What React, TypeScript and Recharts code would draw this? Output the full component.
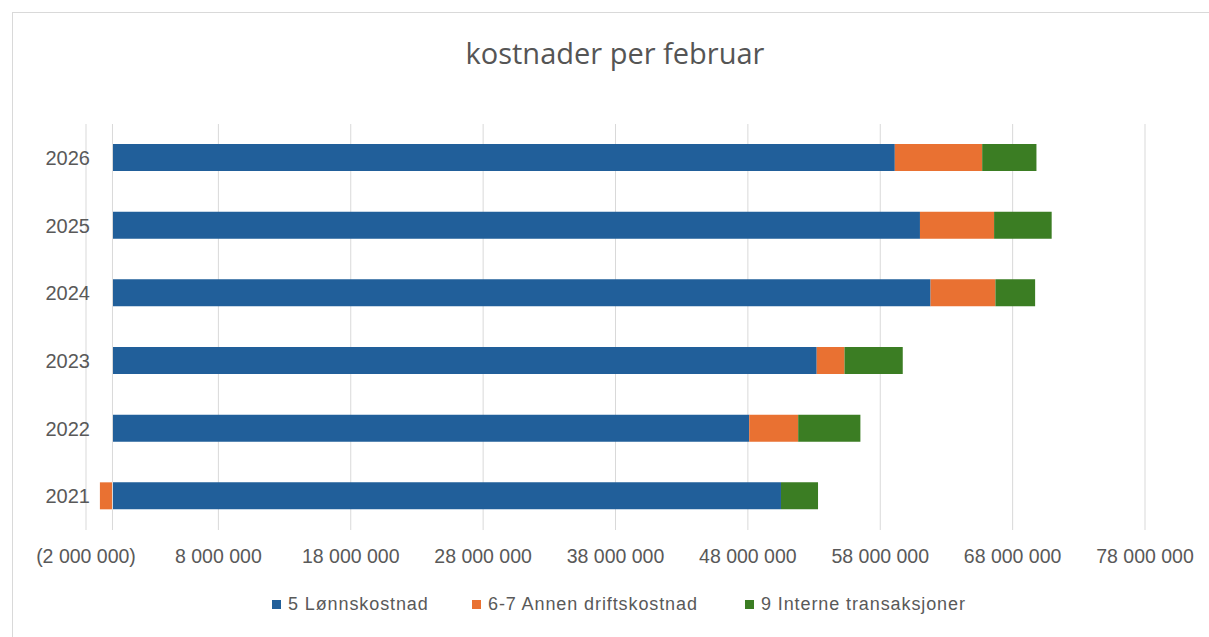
import { BarChart, Bar, XAxis, YAxis, CartesianGrid, ReferenceLine } from "recharts";

const years = ["2021", "2022", "2023", "2024", "2025", "2026"];
const lonn = [50.5, 48.1, 53.2, 61.8, 61.0, 59.1];
const annen = [-0.95, 3.7, 2.1, 4.9, 5.6, 6.6];
const interne = [2.8, 4.7, 4.4, 3.0, 4.35, 4.1];
const xTicks = [-2, 8, 18, 28, 38, 48, 58, 68, 78];

const series = [
  { key: "lonn", name: "5 Lønnskostnad", color: "#215F9A" },
  { key: "annen", name: "6-7 Annen driftskostnad", color: "#E97132" },
  { key: "interne", name: "9 Interne transaksjoner", color: "#3B7D23" },
];

const data = years.map((year, i) => ({
  year,
  lonn: lonn[i] * 1e6,
  annen: annen[i] * 1e6,
  interne: interne[i] * 1e6,
}));

const FONT = "'Liberation Sans', Arial, sans-serif";
const TEXT = "#595959";

const fmt = (v: number) => {
  const s = Math.abs(v).toString().replace(/\B(?=(\d{3})+(?!\d))/g, " ");
  return v < 0 ? `(${s})` : s;
};

const XTick = (props: any) => {
  const { x, payload } = props;
  return (
    <text x={x} y={563} textAnchor="middle" fill={TEXT} fontSize={19.5} fontFamily={FONT}>
      {fmt(payload.value)}
    </text>
  );
};

const YTick = (props: any) => {
  const { y, payload } = props;
  return (
    <text x={90} y={y} dy={7} textAnchor="end" fill={TEXT} fontSize={20} fontFamily={FONT}>
      {payload.value}
    </text>
  );
};

// legend item left edges (square position)
const legendX = [272, 472, 745];

export default function App() {
  return (
    <div
      style={{
        position: "absolute",
        left: 0,
        top: 0,
        width: 1209,
        height: 637,
        background: "#fff",
        overflow: "hidden",
        fontFamily: FONT,
      }}
    >
      <div
        style={{
          position: "absolute",
          left: 12,
          top: 12,
          width: 1300,
          height: 700,
          border: "1px solid #d9d9d9",
        }}
      />
      <div
        style={{
          position: "absolute",
          top: 33,
          left: 0,
          width: 1230,
          textAlign: "center",
          fontSize: 29,
          color: "#555",
          fontFamily: "'Open Sans', sans-serif",
        }}
      >
        kostnader per februar
      </div>
      <div style={{ position: "absolute", left: 0, top: 0 }}>
        <BarChart
          width={1209}
          height={637}
          data={data}
          layout="vertical"
          stackOffset="sign"
          barSize={27}
          margin={{ top: 124, right: 64, bottom: 67, left: 0 }}
        >
          <CartesianGrid horizontal={false} stroke="#d9d9d9" />
          <XAxis
            type="number"
            domain={[-2e6, 78e6]}
            ticks={xTicks.map((t) => t * 1e6)}
            axisLine={false}
            tickLine={false}
            height={40}
            tick={<XTick />}
            interval={0}
          />
          <YAxis
            type="category"
            dataKey="year"
            reversed
            width={86}
            axisLine={false}
            tickLine={false}
            tick={<YTick />}
          />
          <ReferenceLine x={0} stroke="#d9d9d9" />
          {series.map((s) => (
            <Bar
              key={s.key}
              dataKey={s.key}
              name={s.name}
              stackId="a"
              fill={s.color}
              isAnimationActive={false}
            />
          ))}
        </BarChart>
      </div>
      {series.map((s, i) => (
        <div
          key={s.key}
          style={{
            position: "absolute",
            left: legendX[i],
            top: 594,
            display: "flex",
            alignItems: "center",
            fontSize: 18,
            letterSpacing: 0.9,
            color: TEXT,
            whiteSpace: "nowrap",
          }}
        >
          <span style={{ width: 9, height: 9, background: s.color, marginRight: 7 }} />
          {s.name}
        </div>
      ))}
    </div>
  );
}
